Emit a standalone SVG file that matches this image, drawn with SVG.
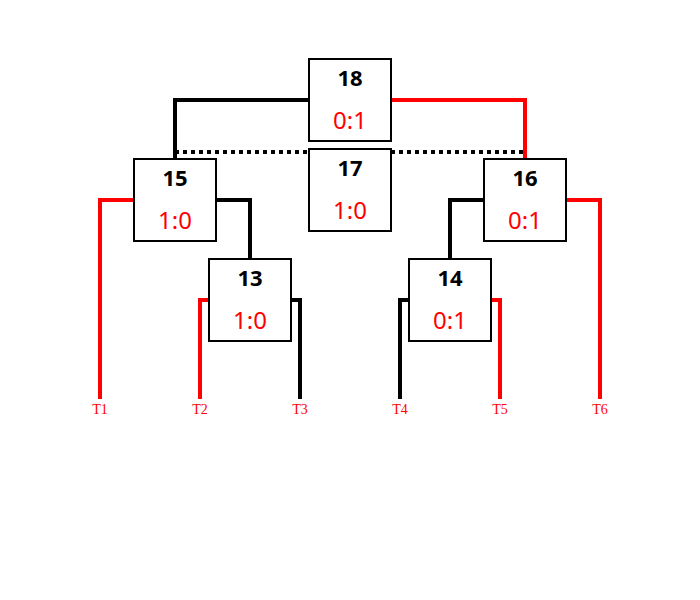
<svg xmlns="http://www.w3.org/2000/svg" width="700" height="600" viewBox="0 0 700 600">
<style>
.box{fill:#fff;stroke:#000;stroke-width:2}
.id{font-family:"Noto Sans","DejaVu Sans",sans-serif;font-weight:bold;font-size:22px;fill:#000;text-anchor:middle}
.val{font-family:"Noto Sans","DejaVu Sans",sans-serif;font-size:24px;fill:#f00;text-anchor:middle}
.leaf{font-family:"Liberation Serif",serif;font-size:14px;fill:#f00;text-anchor:middle}
.k{fill:none;stroke:#000;stroke-width:4}
.r{fill:none;stroke:#f00;stroke-width:4}
</style>
<rect width="700" height="600" fill="#fff"/>
<g id="connectors">
<path class="k" d="M175,152 H525" stroke-dasharray="4 4"/>
<path class="k" d="M309,100 H175 V159"/>
<path class="r" d="M391,100 H525 V159"/>
<path class="r" d="M134,200 H100 V399"/>
<path class="k" d="M216,200 H250 V259"/>
<path class="r" d="M209,300 H200 V399"/>
<path class="k" d="M291,300 H300 V399"/>
<path class="k" d="M484,200 H450 V259"/>
<path class="r" d="M566,200 H600 V399"/>
<path class="k" d="M409,300 H400 V399"/>
<path class="r" d="M491,300 H500 V399"/>
</g>
<g id="n18"><rect class="box" x="309" y="59" width="82" height="82"/><text class="id" x="350" y="86">18</text><text class="val" x="350" y="129">0:1</text></g>
<g id="n17"><rect class="box" x="309" y="149" width="82" height="82"/><text class="id" x="350" y="176">17</text><text class="val" x="350" y="219">1:0</text></g>
<g id="n15"><rect class="box" x="134" y="159" width="82" height="82"/><text class="id" x="175" y="186">15</text><text class="val" x="175" y="229">1:0</text></g>
<g id="n16"><rect class="box" x="484" y="159" width="82" height="82"/><text class="id" x="525" y="186">16</text><text class="val" x="525" y="229">0:1</text></g>
<g id="n13"><rect class="box" x="209" y="259" width="82" height="82"/><text class="id" x="250" y="286">13</text><text class="val" x="250" y="329">1:0</text></g>
<g id="n14"><rect class="box" x="409" y="259" width="82" height="82"/><text class="id" x="450" y="286">14</text><text class="val" x="450" y="329">0:1</text></g>
<g id="leaves">
<text class="leaf" x="100" y="414">T1</text>
<text class="leaf" x="200" y="414">T2</text>
<text class="leaf" x="300" y="414">T3</text>
<text class="leaf" x="400" y="414">T4</text>
<text class="leaf" x="500" y="414">T5</text>
<text class="leaf" x="600" y="414">T6</text>
</g>
</svg>
